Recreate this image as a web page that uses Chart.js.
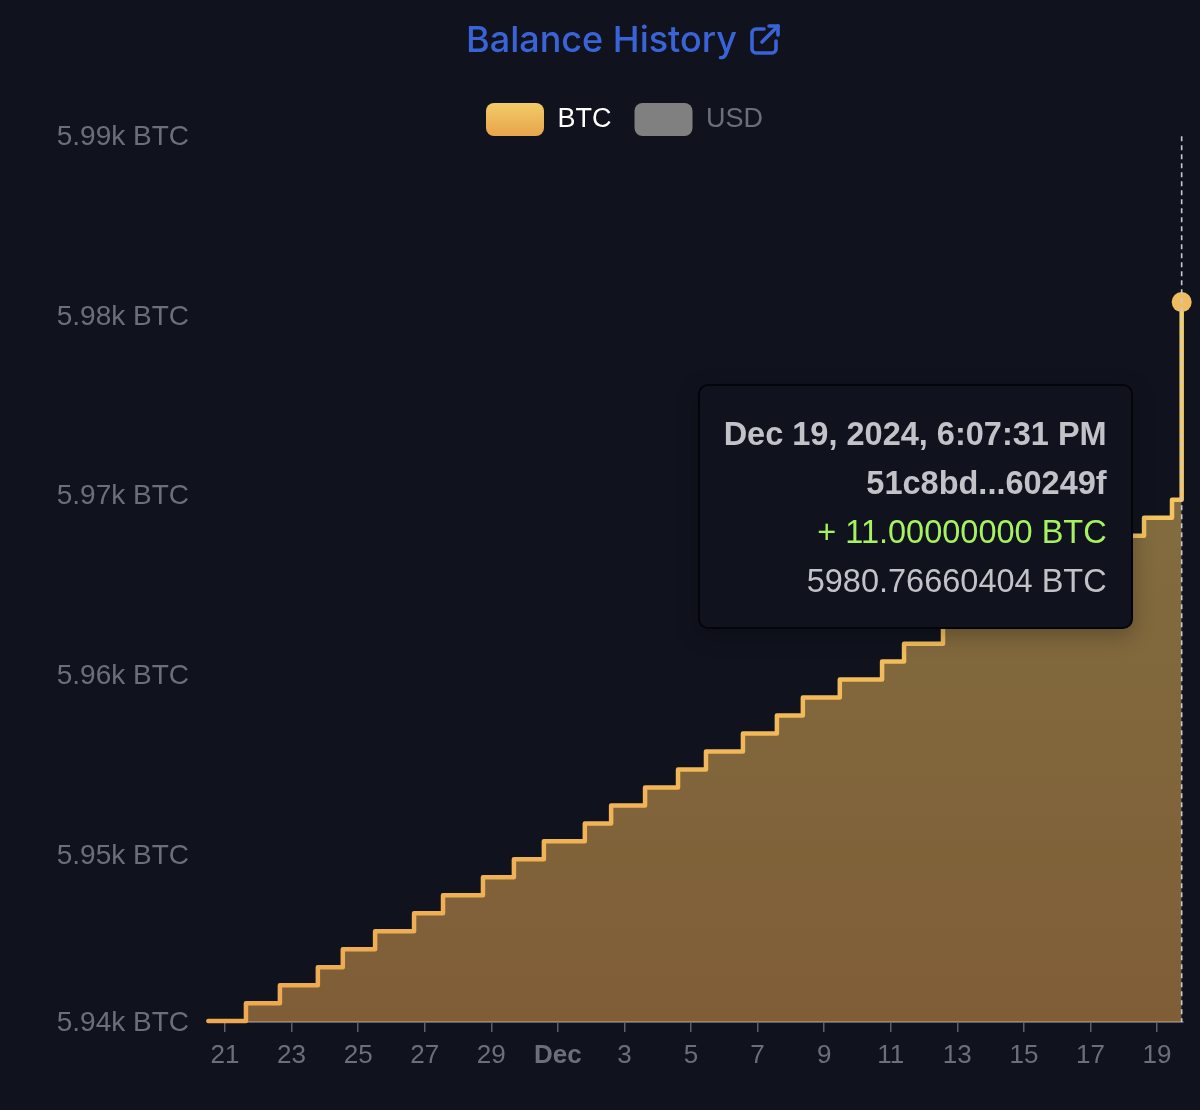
<!DOCTYPE html>
<html>
<head>
<meta charset="utf-8">
<title>Balance History</title>
<script src="https://cdn.jsdelivr.net/npm/chart.js@4"></script>
<style>
    html, body { margin: 0; padding: 0; background: #10131e; }
    #wrap { position: relative; width: 1200px; height: 1110px; overflow: hidden; }
    #linkIcon { position: absolute; left: 749px; top: 23px; width: 32px; height: 32px; }
    #tip {
        position: absolute; box-sizing: border-box; width: 435px; height: 245px; padding: 24px 24px 0 0;
        background: #10131e; border: 2px solid #04050a; border-radius: 10px;
        box-shadow: 0 6px 22px rgba(0, 0, 0, 0.28);
        font-family: "Liberation Sans", sans-serif; font-size: 32.5px; line-height: 49px;
        text-align: right; color: #c2c3c8; white-space: nowrap; visibility: hidden;
    }
    #tip .bold { font-weight: bold; }
    #tip .plus { color: #a6f25f; }
</style>
</head>
<body>
<div id="wrap">
    <canvas id="balanceChart" width="1200" height="1110"></canvas>
    <svg id="linkIcon" viewBox="0 0 32 32" fill="none" stroke="#3a63d8" stroke-width="3.6" stroke-linecap="round" stroke-linejoin="round">
        <path d="M15 6H7a4 4 0 0 0-4 4v16a4 4 0 0 0 4 4h16a4 4 0 0 0 4-4v-8"/>
        <path d="M13 19L29 3"/>
        <path d="M20 3h9v9"/>
    </svg>
    <div id="tip"></div>
</div>
<script>
const titleText = 'Balance History';
const legendLabels = ['BTC', 'USD'];

// days after Nov 21 at which each deposit landed
const stepDays = [-0.5, 0.63, 1.65, 2.79, 3.54, 4.51, 5.68, 6.55, 7.75, 8.68, 9.58, 10.81, 11.6, 12.62, 13.61, 14.45,
    15.56, 16.58, 17.36, 18.47, 19.74, 20.4, 21.57, 22.53, 23.52, 24.57, 25.53, 26.52, 27.61, 28.45, 28.74];
const balances = [5940.77, 5941.77, 5942.77, 5943.77, 5944.77, 5945.77, 5946.77, 5947.77, 5948.77, 5949.77, 5950.77,
    5951.77, 5952.77, 5953.77, 5954.77, 5955.77, 5956.77, 5957.77, 5958.77, 5959.77, 5960.77, 5961.77, 5962.77,
    5963.77, 5964.77, 5965.77, 5966.77, 5967.77, 5968.77, 5969.77, 5980.77];

const xTickValues = [0, 2, 4, 6, 8, 10, 12, 14, 16, 18, 20, 22, 24, 26, 28];
const xTickLabels = ['21', '23', '25', '27', '29', 'Dec', '3', '5', '7', '9', '11', '13', '15', '17', '19'];
const yTickValues = [5940.72, 5950, 5960, 5970, 5980, 5990];
const yTickLabels = ['5.94k BTC', '5.95k BTC', '5.96k BTC', '5.97k BTC', '5.98k BTC', '5.99k BTC'];

const tooltipTime = 'Dec 19, 2024, 6:07:31 PM';
const tooltipHash = '51c8bd...60249f';
const tooltipChange = '+ 11.00000000 BTC';
const tooltipBalance = '5980.76660404 BTC';

const xMin = -0.51, xMax = 28.78;
const yMin = 5940.72, yMax = 5990;
const tickColor = '#6c6f7b';
const axisFont = '"Liberation Sans", sans-serif';
const lastIndex = balances.length - 1;

function areaGradient(chart, top, bottom) {
    const { ctx, chartArea } = chart;
    if (!chartArea) return null;
    const g = ctx.createLinearGradient(0, chartArea.top, 0, chartArea.bottom);
    g.addColorStop(0, top);
    g.addColorStop(1, bottom);
    return g;
}

// title and legend sit off-centre in the original, and the hover line runs the full height
const layoutPlugin = {
    id: 'layoutTweaks',
    afterLayout(chart) {
        chart.titleBlock.left = 20;
        chart.legend.left = 66;
        chart.legend.top = 80;
    },
    afterDatasetsDraw(chart) {
        const { ctx, scales } = chart;
        const x = scales.x.getPixelForValue(stepDays[lastIndex]);
        ctx.save();
        ctx.strokeStyle = '#c9cbd4';
        ctx.lineWidth = 1.6;
        ctx.setLineDash([5, 4]);
        ctx.beginPath();
        ctx.moveTo(x, scales.y.getPixelForValue(5990));
        ctx.lineTo(x, scales.y.getPixelForValue(yMin));
        ctx.stroke();
        ctx.restore();
    }
};

function renderTip({ chart, tooltip }) {
    const tip = document.getElementById('tip');
    tip.innerHTML =
        `<div class="bold">${tooltipTime}</div>` +
        `<div class="bold">${tooltipHash}</div>` +
        `<div class="plus">${tooltipChange}</div>` +
        `<div>${tooltipBalance}</div>`;
    tip.style.left = (tooltip.caretX - 484) + 'px';
    tip.style.top = (tooltip.caretY + 82) + 'px';
    tip.style.visibility = 'visible';
}

const chart = new Chart(document.getElementById('balanceChart'), {
    type: 'line',
    data: {
        datasets: [{
            label: legendLabels[0],
            data: stepDays.map((d, i) => ({ x: d, y: balances[i] })),
            stepped: true,
            clip: false,
            borderWidth: 4.5,
            borderJoinStyle: 'round',
            borderCapStyle: 'round',
            borderColor: c => areaGradient(c.chart, '#f8d96a', '#eea950'),
            backgroundColor: c => areaGradient(c.chart, 'rgba(248, 217, 106, 0.5)', 'rgba(238, 169, 80, 0.5)'),
            fill: 'start',
            pointRadius: c => c.dataIndex === lastIndex ? 10 : 0,
            pointHoverRadius: c => c.dataIndex === lastIndex ? 10 : 0,
            pointBorderWidth: 0,
            pointHoverBorderWidth: 0,
            pointBackgroundColor: '#efbd60',
            pointHoverBackgroundColor: '#efbd60'
        }, {
            label: legendLabels[1],
            data: [],
            hidden: true
        }]
    },
    options: {
        responsive: false,
        animation: false,
        events: [],
        layout: { padding: { right: 17 } },
        plugins: {
            title: {
                display: true,
                text: titleText,
                color: '#3a63d8',
                font: { family: 'Inter, sans-serif', size: 36, weight: '500' },
                padding: { top: 20, bottom: 53 }
            },
            legend: {
                display: true,
                maxHeight: 20,
                onClick: null,
                labels: {
                    boxWidth: 58,
                    boxHeight: 33,
                    padding: 23,
                    useBorderRadius: true,
                    borderRadius: 8,
                    font: { family: axisFont, size: 27 },
                    generateLabels(chart) {
                        const g = chart.ctx.createLinearGradient(0, 102, 0, 134);
                        g.addColorStop(0, '#f3cd68');
                        g.addColorStop(1, '#e9a64e');
                        return [
                            { text: legendLabels[0], fillStyle: g, strokeStyle: 'transparent', lineWidth: 0, borderRadius: 8, fontColor: '#ffffff', datasetIndex: 0 },
                            { text: legendLabels[1], fillStyle: '#808080', strokeStyle: 'transparent', lineWidth: 0, borderRadius: 8, fontColor: '#6c6f7b', datasetIndex: 1 }
                        ];
                    }
                }
            },
            tooltip: { enabled: false, external: renderTip, mode: 'nearest' }
        },
        scales: {
            x: {
                type: 'linear',
                min: xMin,
                max: xMax,
                afterBuildTicks: axis => { axis.ticks = xTickValues.map(v => ({ value: v })); },
                afterFit: axis => { axis.height = 88; },
                grid: { drawOnChartArea: false, color: '#5d5f69', tickLength: 10, lineWidth: 1.5 },
                border: { color: '#5d5f69', width: 2 },
                ticks: {
                    autoSkip: false,
                    maxRotation: 0,
                    padding: 8,
                    color: tickColor,
                    font: c => ({ family: axisFont, size: 26, weight: xTickLabels[c.index] === 'Dec' ? 'bold' : 'normal' }),
                    callback: (value, index) => xTickLabels[index]
                }
            },
            y: {
                min: yMin,
                max: yMax,
                afterBuildTicks: axis => { axis.ticks = yTickValues.map(v => ({ value: v })); },
                afterFit: axis => { axis.width = 208; },
                grid: { display: false, drawTicks: false },
                border: { display: false },
                ticks: {
                    autoSkip: false,
                    padding: 19,
                    labelOffset: 1,
                    color: tickColor,
                    font: { family: axisFont, size: 28 },
                    callback: (value, index) => yTickLabels[index]
                }
            }
        }
    },
    plugins: [layoutPlugin]
});

const active = [{ datasetIndex: 0, index: lastIndex }];
chart.setActiveElements(active);
chart.tooltip.setActiveElements(active, { x: 0, y: 0 });
chart.update();
</script>
</body>
</html>
